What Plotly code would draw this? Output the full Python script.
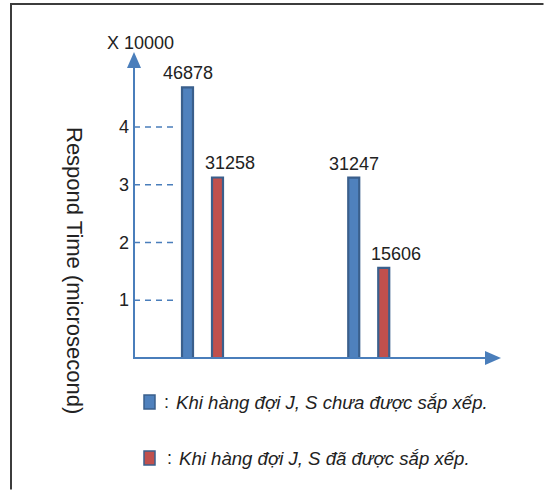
import plotly.graph_objects as go

# ---- data ----
cases = ["Case 1", "Case 2"]
unsorted_vals = [46878, 31247]   # Khi hàng đợi J, S chưa được sắp xếp
sorted_vals = [31258, 15606]     # Khi hàng đợi J, S đã được sắp xếp
scale = 10000
tick_vals = [1, 2, 3, 4]
y_title = "Respond Time (microsecond)"
unit_label = "X 10000"
legend_texts = ["Khi hàng đợi J, S chưa được sắp xếp.", "Khi hàng đợi J, S đã được sắp xếp."]

# ---- styling / geometry (pixels) ----
W, H = 544, 490
FONT = "Liberation Sans, Arial, sans-serif"
BLUE = "#4f81bd"
RED = "#c0504d"
EDGE = "#3a5f8c"
AXIS = "#4a7ebb"
TXT = "#222222"

X0_PX = 134      # y-axis x position
Y0_PX = 358      # x-axis y position
UNIT_PX = 57.75  # pixels per 1 (x10000)
G0_PX = 202.5    # first group center
G_PX = 166.25    # group spacing

def px(x):
    return x / W

def py(y):
    return 1 - y / H

yr = [-(H - Y0_PX) / UNIT_PX, Y0_PX / UNIT_PX]
xr = [-G0_PX / G_PX, (W - G0_PX) / G_PX]
bw = 11 / G_PX

fig = go.Figure()
fig.add_trace(go.Bar(x=cases, y=[v / scale for v in unsorted_vals], width=bw,
                     offset=(-15 - 5.5) / G_PX, marker=dict(color=BLUE, line=dict(color=EDGE, width=2.2)),
                     name=legend_texts[0], showlegend=False))
fig.add_trace(go.Bar(x=cases, y=[v / scale for v in sorted_vals], width=bw,
                     offset=(15 - 5.5) / G_PX, marker=dict(color=RED, line=dict(color=EDGE, width=2.2)),
                     name=legend_texts[1], showlegend=False))

ann = []
# value labels
for i, c in enumerate(cases):
    ann.append(dict(x=c, y=unsorted_vals[i] / scale, text=str(unsorted_vals[i]), showarrow=False,
                    yanchor="bottom", xshift=-15, yshift=2, font=dict(size=18, color=TXT, family=FONT)))
    ann.append(dict(x=c, y=sorted_vals[i] / scale, text=str(sorted_vals[i]), showarrow=False,
                    yanchor="bottom", xshift=27, yshift=2, font=dict(size=18, color=TXT, family=FONT)))

shapes = []
# frame (top and left visible; the rest lies outside the picture)
shapes.append(dict(type="path", xref="paper", yref="paper",
                   path=f"M {px(11)} {py(H - 0.5)} L {px(11)} {py(4)} L {px(W - 0.5)} {py(4)}",
                   line=dict(color="#3c3c3c", width=2), fillcolor="rgba(0,0,0,0)", layer="below"))

# tick dashes and labels
for t in tick_vals:
    shapes.append(dict(type="line", xref="paper", yref="y", x0=px(X0_PX), x1=px(177), y0=t, y1=t,
                       line=dict(color=AXIS, width=1.6, dash="6px,5px")))
    ann.append(dict(xref="paper", yref="y", x=px(131), y=t, text=str(t), showarrow=False,
                    xanchor="right", yanchor="middle", font=dict(size=18, color=TXT, family=FONT)))

# axes with arrowheads
shapes.append(dict(type="line", xref="paper", yref="paper", x0=px(X0_PX), x1=px(X0_PX),
                   y0=py(Y0_PX + 1), y1=py(66), line=dict(color=AXIS, width=2)))
shapes.append(dict(type="path", xref="paper", yref="paper",
                   path=f"M {px(X0_PX)} {py(52)} L {px(X0_PX - 7)} {py(68)} L {px(X0_PX + 7)} {py(68)} Z",
                   fillcolor=AXIS, line=dict(width=0)))
shapes.append(dict(type="line", xref="paper", yref="paper", x0=px(X0_PX - 1), x1=px(487),
                   y0=py(Y0_PX), y1=py(Y0_PX), line=dict(color=AXIS, width=2)))
shapes.append(dict(type="path", xref="paper", yref="paper",
                   path=f"M {px(501)} {py(Y0_PX)} L {px(485)} {py(Y0_PX - 7)} L {px(485)} {py(Y0_PX + 7)} Z",
                   fillcolor=AXIS, line=dict(width=0)))

# unit label and axis title
ann.append(dict(xref="paper", yref="paper", x=px(140), y=py(43), text=unit_label, showarrow=False,
                xanchor="center", yanchor="middle", font=dict(size=18, color=TXT, family=FONT)))
ann.append(dict(xref="paper", yref="paper", x=px(75), y=py(270), text=y_title, showarrow=False,
                textangle=90, xanchor="center", yanchor="middle", font=dict(size=22, color=TXT, family=FONT)))

# legend (custom)
for k, (txt, col, yy) in enumerate(zip(legend_texts, [BLUE, RED], [402, 458])):
    shapes.append(dict(type="rect", xref="paper", yref="paper", x0=px(144), x1=px(155),
                       y0=py(yy + 7), y1=py(yy - 7), fillcolor=col, line=dict(color=EDGE, width=1.5)))
    ann.append(dict(xref="paper", yref="paper", x=px(162 + 3 * k), y=py(yy), text=":", showarrow=False,
                    xanchor="left", yanchor="middle", font=dict(size=18, color=TXT, family=FONT)))
    ann.append(dict(xref="paper", yref="paper", x=px(174 + 3 * k), y=py(yy), text=f"<i>{txt}</i>",
                    showarrow=False, xanchor="left", yanchor="middle",
                    font=dict(size=18.6, color=TXT, family=FONT)))

fig.update_layout(
    width=W, height=H, autosize=False,
    margin=dict(l=0, r=0, t=0, b=0),
    paper_bgcolor="white", plot_bgcolor="rgba(0,0,0,0)",
    xaxis=dict(range=xr, visible=False, fixedrange=True),
    yaxis=dict(range=yr, visible=False, fixedrange=True),
    barmode="overlay",
    shapes=shapes, annotations=ann,
    showlegend=False,
)
fig.write_html("out.html", config={"displayModeBar": False},
               post_script="document.body.style.margin='0';document.body.style.overflow='hidden';")
